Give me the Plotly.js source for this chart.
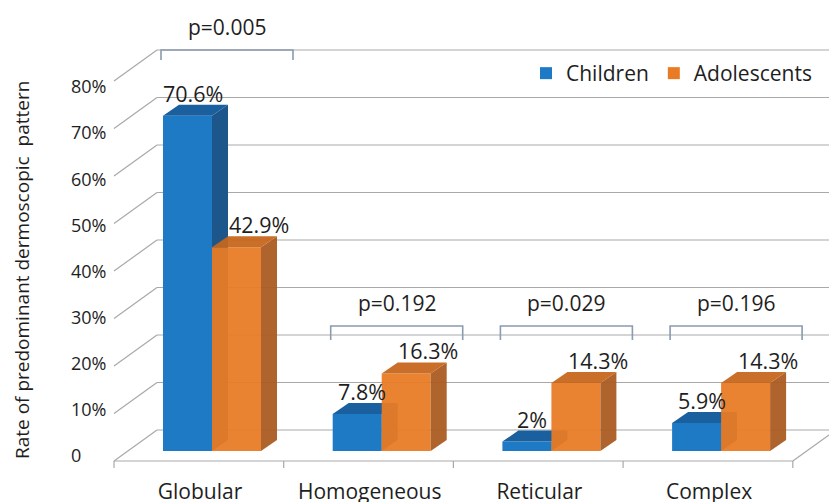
<!DOCTYPE html>
<html>
<head>
<meta charset="utf-8">
<script src="https://cdn.plot.ly/plotly-3.0.1.min.js"></script>
<style>
  html, body { margin: 0; padding: 0; background: #ffffff; }
  #chart { width: 829px; height: 502px; }
</style>
</head>
<body>
<div id="chart"></div>
<script>
// ---------------- data ----------------
const categories  = ['Globular', 'Homogeneous', 'Reticular', 'Complex'];
const children    = [70.6, 7.8, 2, 5.9];
const adolescents = [42.9, 16.3, 14.3, 14.3];
const pValues     = ['p=0.005', 'p=0.192', 'p=0.029', 'p=0.196'];
const yTickVals   = [0, 10, 20, 30, 40, 50, 60, 70, 80];
const yTickText   = ['0', '10%', '20%', '30%', '40%', '50%', '60%', '70%', '80%'];
const seriesNames = ['Children', 'Adolescents'];

// ---------------- geometry (pixels -> axis units) ----------------
const W = 829, PLOT_H = 470;
const CAT_PX = 169.7;          // pixels per category
const ORIGIN_PX = 212;         // pixel x of first group centre
const PX_PER_PCT = 4.75;       // pixels per percent
const FLOOR_PX = 461;          // pixel y of front floor edge (0 %)
const ux = px => px / CAT_PX;
const uy = px => px / PX_PER_PCT;

const xRange = [-ORIGIN_PX / CAT_PX, (W - ORIGIN_PX) / CAT_PX];
const yRange = [(FLOOR_PX - PLOT_H) / PX_PER_PCT, FLOOR_PX / PX_PER_PCT];

const BASE = uy(10);           // bar front plane above floor edge
const BAR_W = ux(49);
const DX = ux(16), DY = uy(11);          // bar depth
const WALL_DX = ux(43), WALL_DY = uy(31); // full floor depth

const FONT = '"Open Sans", "DejaVu Sans", sans-serif';
const TXT = '#1e1e1e';
const GRID = '#a9a9a9';

function faces(vals, off) {
  const top = {x: [], y: []}, side = {x: [], y: []};
  vals.forEach((v, i) => {
    const x0 = i + off, x1 = x0 + BAR_W, yb = BASE, yt = BASE + v;
    top.x.push(x0, x1, x1 + DX, x0 + DX, x0, null);
    top.y.push(yt, yt, yt + DY, yt + DY, yt, null);
    side.x.push(x1, x1, x1 + DX, x1 + DX, x1, null);
    side.y.push(yb, yt, yt + DY, yb + DY, yb, null);
  });
  return {top, side};
}

function seriesTraces(vals, off, name, cFront, cTop, cSide, xa, ya, op) {
  const f = faces(vals, off);
  const poly = (d, c) => ({
    type: 'scatter', mode: 'lines', x: d.x, y: d.y, fill: 'toself',
    fillcolor: c, line: {width: 0, color: c}, xaxis: xa, yaxis: ya,
    showlegend: false, hoverinfo: 'skip', opacity: op
  });
  return [
    {
      type: 'bar', name: name, x: categories.map((_, i) => i), y: vals,
      base: BASE, width: BAR_W, offset: off,
      marker: {color: cFront, line: {width: 0}, opacity: op},
      xaxis: xa, yaxis: ya, hoverinfo: 'skip'
    },
    poly(f.side, cSide),
    poly(f.top, cTop)
  ];
}

const data = [
  ...seriesTraces(children, -BAR_W, seriesNames[0], '#1f7ac6', '#1a5f9e', '#1c568a', 'x', 'y', 1),
  ...seriesTraces(adolescents, 0, seriesNames[1], '#e97b24', '#c6661c', '#a95a1f', 'x2', 'y2', 0.94),
  {type: 'scatter', x: [], y: [], xaxis: 'x', yaxis: 'y3', showlegend: false, hoverinfo: 'skip'}
];

// ---------------- shapes: walls, floor, brackets ----------------
const shapes = [];
const backLeft = ux(157 - ORIGIN_PX), frontLeft = ux(114 - ORIGIN_PX);
yTickVals.forEach(v => {
  shapes.push({type: 'line', layer: 'below', xref: 'x', yref: 'y',
    x0: frontLeft, y0: v, x1: backLeft, y1: v + WALL_DY, line: {color: GRID, width: 1.2}});
  shapes.push({type: 'line', layer: 'below', xref: 'x', yref: 'y',
    x0: backLeft, y0: v + WALL_DY, x1: xRange[1] + 1, y1: v + WALL_DY, line: {color: GRID, width: 1.2}});
});
const floorRight = frontLeft + categories.length;
shapes.push({type: 'line', layer: 'below', xref: 'x', yref: 'y',
  x0: frontLeft, y0: 0, x1: floorRight, y1: 0, line: {color: GRID, width: 1.2}});
shapes.push({type: 'line', layer: 'below', xref: 'x', yref: 'y',
  x0: floorRight, y0: 0, x1: floorRight + WALL_DX, y1: WALL_DY, line: {color: GRID, width: 1.2}});
for (let k = 0; k <= categories.length; k++) {
  shapes.push({type: 'line', layer: 'below', xref: 'x', yref: 'y',
    x0: frontLeft + k, y0: 0, x1: frontLeft + k, y1: -uy(7), line: {color: GRID, width: 1.2}});
}

// bracket levels (pixel rows of bracket tops in the reference)
const bracketTopPx = [50, 326, 326, 326];
const bracketDropPx = [10, 14, 14, 14];
const annotations = [];
pValues.forEach((p, i) => {
  const yt = uy(FLOOR_PX - bracketTopPx[i]);
  const yb = yt - uy(bracketDropPx[i]);
  const xa = i + ux(-51), xb = i + ux(81);
  shapes.push({type: 'path', layer: 'above', xref: 'x', yref: 'y',
    path: `M${xa},${yb} L${xa},${yt} L${xb},${yt} L${xb},${yb}`,
    line: {color: '#8b9bb0', width: 1.6}});
  annotations.push({xref: 'x', yref: 'y', x: (xa + xb) / 2, y: yt, yshift: 23,
    text: p, showarrow: false, xanchor: 'center', yanchor: 'middle',
    font: {family: FONT, size: 21, color: TXT}});
});

// value labels
children.forEach((v, i) => {
  annotations.push({xref: 'x', yref: 'y', x: i - BAR_W / 2, y: BASE + v, xshift: 5, yshift: 22,
    text: v + '%', showarrow: false, xanchor: 'center', yanchor: 'middle',
    font: {family: FONT, size: 21.5, color: TXT}});
});
adolescents.forEach((v, i) => {
  annotations.push({xref: 'x', yref: 'y', x: i + BAR_W / 2, y: BASE + v, xshift: 22, yshift: 23,
    text: v + '%', showarrow: false, xanchor: 'center', yanchor: 'middle',
    font: {family: FONT, size: 21.5, color: TXT}});
});

// y-axis title
annotations.push({xref: 'paper', yref: 'paper', x: 22 / W, y: (PLOT_H - 270) / PLOT_H,
  text: 'Rate of predominant dermoscopic&nbsp; pattern', textangle: -90, showarrow: false,
  xanchor: 'center', yanchor: 'middle', font: {family: FONT, size: 19, color: TXT}});

const hidden = {visible: false, showgrid: false, zeroline: false, fixedrange: true};

const layout = {
  width: W, height: 502,
  margin: {l: 0, r: 0, t: 0, b: 502 - PLOT_H, pad: 0},
  paper_bgcolor: '#ffffff', plot_bgcolor: 'rgba(0,0,0,0)',
  showlegend: true,
  legend: {orientation: 'h', x: 526 / W, xanchor: 'left', y: (PLOT_H - 53) / PLOT_H, yanchor: 'top',
    font: {family: FONT, size: 21, color: TXT}, bgcolor: 'rgba(0,0,0,0)', traceorder: 'normal'},
  xaxis: {range: xRange, showgrid: false, zeroline: false, showline: false, ticks: '',
    tickmode: 'array', tickvals: categories.map((_, i) => i), ticktext: categories,
    ticklabelshift: -12, ticklabelstandoff: 7,
    tickfont: {family: FONT, size: 21, color: TXT}, fixedrange: true},
  yaxis: Object.assign({range: yRange}, hidden),
  xaxis2: Object.assign({range: xRange, overlaying: 'x', anchor: 'y2'}, hidden),
  yaxis2: Object.assign({range: yRange, overlaying: 'y', anchor: 'x2'}, hidden),
  yaxis3: {overlaying: 'y', anchor: 'free', position: 67 / W, side: 'left',
    range: [(456 - PLOT_H) / 4.6125, 456 / 4.6125],
    tickmode: 'array', tickvals: yTickVals, ticktext: yTickText,
    ticklabelposition: 'inside', showgrid: false, zeroline: false, showline: false, ticks: '',
    tickfont: {family: FONT, size: 18, color: TXT}, fixedrange: true},
  shapes: shapes,
  annotations: annotations,
  hovermode: false
};

Plotly.newPlot('chart', data, layout, {displayModeBar: false, staticPlot: true});
</script>
</body>
</html>
